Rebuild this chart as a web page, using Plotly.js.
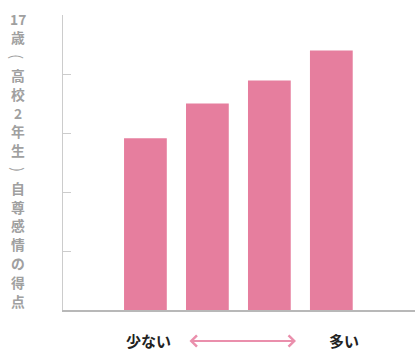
<!DOCTYPE html>
<html>
<head>
<meta charset="utf-8">
<script src="https://cdn.plot.ly/plotly-3.0.1.min.js"></script>
<style>html,body{margin:0;padding:0;background:#fff;}#chart{width:415px;height:351px;}</style>
</head>
<body>
<div id="chart"></div>
<script>
const categories = ['A', 'B', 'C', 'D'];
const scores = [2.91, 3.50, 3.89, 4.40];
const yTitleChars = ['17', '歳', '(', '高', '校', '2', '年', '生', ')', '自', '尊', '感', '情', 'の', '得', '点'];
const lowLabel = '少ない';
const highLabel = '多い';
const yTicks = [0, 1, 2, 3, 4, 5];

const pink = '#e67e9e';
const font = '"Noto Sans CJK JP", "Noto Sans", sans-serif';

const data = [{
  type: 'bar',
  x: categories.map((c, i) => i),
  y: scores,
  marker: {color: pink, line: {width: 0}},
  hoverinfo: 'none'
}];

// plot area: left 63, top 15, width 352, height 295
const L = 63, T = 15, W = 352, H = 295;
const px = x => (x - L) / W;
const py = y => (T + H - y) / H;

const titleAnns = yTitleChars.map((ch, i) => {
  const rot = (ch === '(' || ch === ')');
  return {
    xref: 'paper', yref: 'paper', x: px(18), y: py(18.5 + i * 18.8),
    xanchor: 'center', yanchor: 'middle', showarrow: false,
    text: ch, textangle: rot ? 90 : 0,
    font: {family: font, size: rot ? 15 : 13.8, color: '#a0a0a0', weight: rot ? 'normal' : 'bold'}
  };
});

const layout = {
  width: 415, height: 351,
  margin: {l: L, r: 0, t: T, b: 351 - T - H},
  paper_bgcolor: '#fff', plot_bgcolor: '#fff',
  showlegend: false,
  bargap: 0.31,
  font: {family: font},
  xaxis: {
    range: [-1.33, 4.35], showticklabels: false, ticks: '',
    showgrid: false, zeroline: false, showline: true,
    linecolor: '#b8b8b8', linewidth: 1.5, fixedrange: true
  },
  yaxis: {
    range: [0, 5], tickvals: yTicks, showticklabels: false,
    ticks: 'inside', ticklen: 8, tickcolor: '#cccccc', tickwidth: 1,
    showgrid: false, zeroline: false, showline: true,
    linecolor: '#cccccc', linewidth: 1, fixedrange: true
  },
  annotations: titleAnns.concat([
    {
      xref: 'paper', yref: 'paper', x: px(148), y: py(341),
      xanchor: 'center', yanchor: 'middle', showarrow: false,
      text: lowLabel,
      font: {family: font, size: 15, color: '#222', weight: 'bold'}
    },
    {
      xref: 'paper', yref: 'paper', x: px(344), y: py(341),
      xanchor: 'center', yanchor: 'middle', showarrow: false,
      text: highLabel,
      font: {family: font, size: 15, color: '#222', weight: 'bold'}
    },
    {
      xref: 'paper', yref: 'paper', x: px(296), y: py(341),
      ax: -108, ay: 0,
      text: '', showarrow: true, arrowside: 'end+start',
      arrowhead: 4, arrowsize: 1, arrowwidth: 2.2, arrowcolor: '#ea8fac'
    }
  ])
};

Plotly.newPlot('chart', data, layout, {staticPlot: true, displayModeBar: false});
</script>
</body>
</html>
